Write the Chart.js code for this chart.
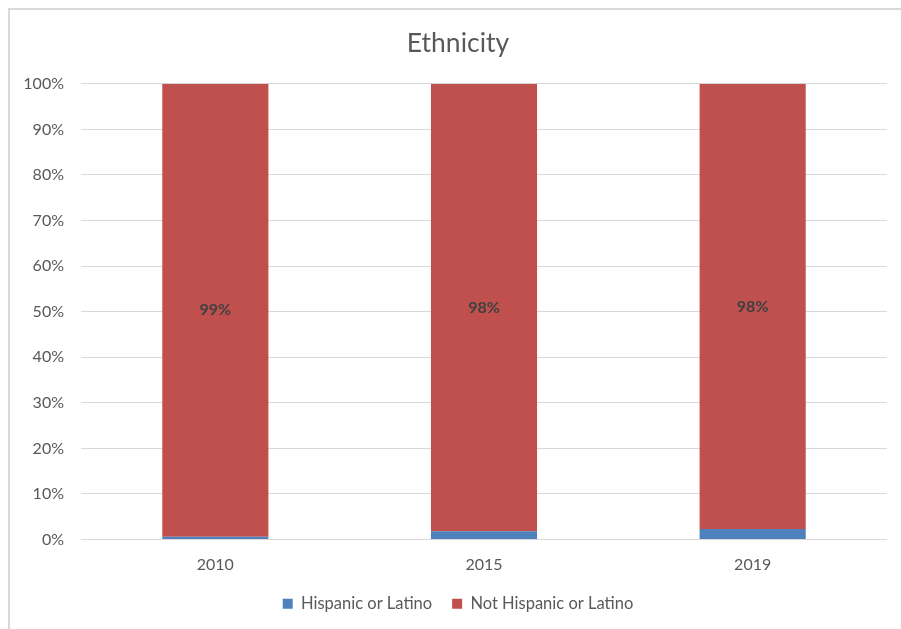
<!DOCTYPE html>
<html>
<head>
<meta charset="utf-8">
<title>Ethnicity</title>
<script src="https://cdn.jsdelivr.net/npm/chart.js@4/dist/chart.umd.min.js"></script>
<style>
  html, body { margin: 0; padding: 0; background: #ffffff; }
  #frame {
    position: absolute; left: 0; top: 0; width: 901px; height: 629px;
    overflow: hidden;
  }
  #edge {
    position: absolute; left: 8px; top: 8px; width: 900px; height: 630px;
    border-left: 2px solid #d9d9d9; border-top: 2px solid #d9d9d9;
    box-sizing: border-box; pointer-events: none;
  }
  canvas { position: absolute; left: 0; top: 0; }
</style>
</head>
<body>
<div id="frame">
  <canvas id="chart" width="901" height="629"></canvas>
  <div id="edge"></div>
</div>
<script>
// Survey years
const years = ['2010', '2015', '2019'];
// Share of population, percent
const hispanic = [0.6, 1.8, 2.3];
const notHispanic = [99.4, 98.2, 97.7];
// Value axis ticks
const yTicks = [0, 10, 20, 30, 40, 50, 60, 70, 80, 90, 100];

const FONT = "Lato, 'Open Sans', 'Noto Sans', sans-serif";

// Writes rounded percentages in the middle of the "Not Hispanic" segments
const segmentLabels = {
  id: 'segmentLabels',
  afterDatasetsDraw(chart) {
    const ctx = chart.ctx;
    const meta = chart.getDatasetMeta(1);
    const ds = chart.data.datasets[1];
    ctx.save();
    ctx.font = "bold 16px " + FONT;
    ctx.fillStyle = '#404040';
    ctx.textAlign = 'center';
    ctx.textBaseline = 'middle';
    meta.data.forEach((bar, i) => {
      const p = bar.getProps(['x', 'y', 'base'], true);
      ctx.fillText(Math.round(ds.data[i]) + '%', p.x, (p.y + p.base) / 2);
    });
    ctx.restore();
  }
};

new Chart(document.getElementById('chart'), {
  type: 'bar',
  data: {
    labels: years,
    datasets: [
      { label: 'Hispanic or Latino', data: hispanic, backgroundColor: '#4F81BD',
        barPercentage: 0.395, categoryPercentage: 1.0 },
      { label: 'Not Hispanic or Latino', data: notHispanic, backgroundColor: '#C0504D',
        barPercentage: 0.395, categoryPercentage: 1.0 }
    ]
  },
  options: {
    responsive: false,
    animation: false,
    layout: { padding: { top: 28, right: 0, bottom: 7, left: 15 } },
    plugins: {
      title: {
        display: true, text: 'Ethnicity', color: '#595959',
        font: { family: FONT, size: 26.5, weight: 'normal' },
        padding: { top: 0, bottom: 24 }
      },
      legend: {
        position: 'bottom',
        labels: {
          color: '#595959', boxWidth: 10, boxHeight: 10, padding: 20,
          font: { family: FONT, size: 16.5 }
        }
      },
      tooltip: { enabled: false }
    },
    scales: {
      x: {
        stacked: true,
        grid: { display: false, drawTicks: false },
        border: { display: false },
        ticks: { color: '#595959', padding: 15.5, font: { family: FONT, size: 16 } },
        afterFit(scale) { scale.height = 36; }
      },
      y: {
        stacked: true,
        min: 0, max: 100,
        afterBuildTicks(scale) { scale.ticks = yTicks.map(v => ({ value: v })); },
        grid: { color: '#d9d9d9', lineWidth: 1, drawTicks: false },
        border: { display: false },
        ticks: {
          color: '#595959', padding: 17, font: { family: FONT, size: 16 },
          callback: v => v + '%'
        },
        afterFit(scale) { scale.width = 66; }
      },
      // empty right-hand margin so the plot ends short of the frame edge
      yRight: {
        position: 'right',
        grid: { display: false, drawTicks: false },
        border: { display: false },
        ticks: { display: false },
        afterFit(scale) { scale.width = 14; }
      }
    }
  },
  plugins: [segmentLabels]
});
</script>
</body>
</html>
